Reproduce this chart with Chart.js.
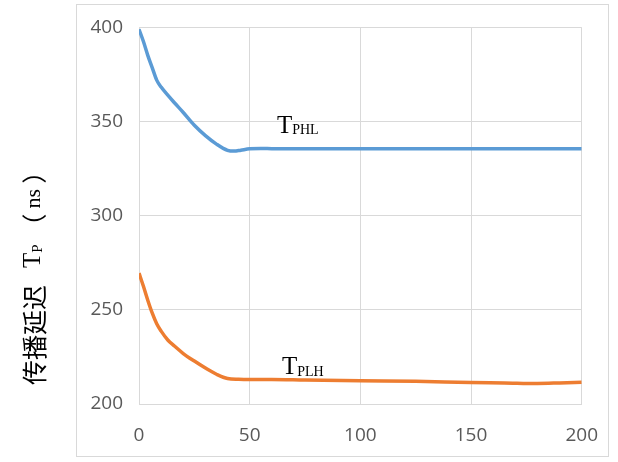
<!DOCTYPE html>
<html>
<head>
<meta charset="utf-8">
<script src="https://cdn.jsdelivr.net/npm/chart.js@4"></script>
<style>
  html, body { margin: 0; padding: 0; background: #ffffff; }
  #wrap { width: 618px; height: 462px; position: relative; }
</style>
</head>
<body>
<div id="wrap"><canvas id="c" width="618" height="462"></canvas></div>
<script>
// Falling-edge propagation delay T_PHL
const phlX = [0, 2, 4, 6, 8, 10, 13, 16, 20, 25, 30, 35, 40, 43, 46, 50, 55, 60, 80, 100, 120, 140, 160, 180, 200];
const phlY = [399, 392.5, 385, 378.5, 372, 368.3, 364, 360, 354.8, 348, 342.5, 338, 334.7, 334.3, 334.8, 335.5, 335.7, 335.6, 335.5, 335.5, 335.5, 335.5, 335.5, 335.5, 335.5];

// Rising-edge propagation delay T_PLH
const plhX = [0, 2, 4, 6, 8, 10, 13, 16, 20, 25, 30, 35, 40, 45, 50, 60, 75, 100, 125, 150, 165, 180, 190, 200];
const plhY = [269.5, 262.5, 255, 248.2, 242.6, 238.7, 234, 230.8, 226.8, 222.8, 219.1, 215.8, 213.5, 213.1, 213, 213, 212.7, 212.3, 212.1, 211.4, 211.2, 210.9, 211.2, 211.6];

const xTicks = [0, 50, 100, 150, 200];
const yTicks = [200, 250, 300, 350, 400];

const seriesNames = [['T', 'PHL'], ['T', 'PLH']];
const axisTitleParts = ['传播延迟', 'T', 'P', '（', 'ns', '）'];

const pts = (xs, ys) => xs.map((x, i) => ({ x: x, y: ys[i] }));

const GRID = '#d9d9d9';
const TICK_TEXT = '#595959';
const LATIN_SERIF = '"Liberation Serif", "DejaVu Serif", serif';
const CJK = '"Noto Sans CJK SC", sans-serif';

// Outer frame around the chart object
const framePlugin = {
  id: 'frame',
  beforeDraw(chart) {
    const ctx = chart.ctx;
    ctx.save();
    ctx.fillStyle = '#ffffff';
    ctx.fillRect(0, 0, chart.width, chart.height);
    ctx.strokeStyle = GRID;
    ctx.lineWidth = 1;
    ctx.strokeRect(76.5, 4.5, 532, 452);
    ctx.restore();
  }
};

// Draws "T" with a smaller subscript after it
function drawSubscripted(ctx, x, y, main, sub, mainSize, subSize, subDrop) {
  ctx.font = mainSize + 'px ' + LATIN_SERIF;
  ctx.fillText(main, x, y);
  const w = ctx.measureText(main).width;
  ctx.font = subSize + 'px ' + LATIN_SERIF;
  ctx.fillText(sub, x + w, y + subDrop);
}

// Series names written next to each curve
const seriesTagPlugin = {
  id: 'seriesTags',
  afterDatasetsDraw(chart) {
    const ctx = chart.ctx;
    const xs = chart.scales.x, ys = chart.scales.y;
    ctx.save();
    ctx.fillStyle = '#000000';
    ctx.textBaseline = 'alphabetic';
    ctx.textAlign = 'left';
    // T_PHL sits above the flat part of the blue curve
    const a = { x: xs.getPixelForValue(62.3), y: ys.getPixelForValue(phlY[phlY.length - 1]) - 15.5 };
    drawSubscripted(ctx, a.x, a.y, seriesNames[0][0], seriesNames[0][1], 25, 14, 1);
    // T_PLH sits on top of the orange curve
    const b = { x: xs.getPixelForValue(64.6), y: ys.getPixelForValue(213) - 6 };
    drawSubscripted(ctx, b.x, b.y, seriesNames[1][0], seriesNames[1][1], 25, 14, 2.5);
    ctx.restore();
  }
};

// Vertical y-axis title with a subscripted P, read bottom to top
const axisTitlePlugin = {
  id: 'axisTitle',
  afterDraw(chart) {
    const ctx = chart.ctx;
    const fonts = [
      '25px ' + CJK, '25px ' + LATIN_SERIF, '15px ' + LATIN_SERIF,
      '25px ' + CJK, '22px ' + LATIN_SERIF, '25px ' + CJK
    ];
    // baseline offsets (toward the right of the page) and gaps before each part
    const drops = [3, -1, 1, 3, -1, 3];
    const gaps = [0, 17, 0, 6, 5, 5];
    ctx.save();
    ctx.fillStyle = '#000000';
    ctx.textBaseline = 'alphabetic';
    ctx.textAlign = 'left';
    ctx.translate(41, 385);
    ctx.rotate(-Math.PI / 2);
    let x = 0;
    axisTitleParts.forEach((t, i) => {
      ctx.font = fonts[i];
      x += gaps[i];
      ctx.fillText(t, x, drops[i]);
      x += ctx.measureText(t).width;
    });
    ctx.restore();
  }
};

const tickFont = { family: '"Open Sans", "Liberation Sans", sans-serif', size: 19 };

new Chart(document.getElementById('c'), {
  type: 'line',
  data: {
    datasets: [
      {
        label: 'TPHL',
        data: pts(phlX, phlY),
        borderColor: '#5b9bd5',
        borderWidth: 3.5,
        pointRadius: 0,
        cubicInterpolationMode: 'monotone',
        fill: false
      },
      {
        label: 'TPLH',
        data: pts(plhX, plhY),
        borderColor: '#ed7d31',
        borderWidth: 3.5,
        pointRadius: 0,
        cubicInterpolationMode: 'monotone',
        fill: false
      }
    ]
  },
  options: {
    responsive: false,
    animation: false,
    devicePixelRatio: 1,
    layout: { padding: { top: 24, right: 34, left: 0, bottom: 0 } },
    plugins: {
      legend: { display: false },
      tooltip: { enabled: false },
      title: { display: false }
    },
    scales: {
      x: {
        type: 'linear',
        min: xTicks[0],
        max: xTicks[xTicks.length - 1],
        afterBuildTicks(scale) { scale.ticks = xTicks.map(v => ({ value: v })); },
        afterFit(scale) { scale.height = 58; },
        ticks: { font: tickFont, color: TICK_TEXT, padding: 20, maxRotation: 0 },
        grid: { color: GRID, lineWidth: 1, drawTicks: false },
        border: { color: GRID, width: 1 }
      },
      y: {
        type: 'linear',
        min: yTicks[0],
        max: yTicks[yTicks.length - 1],
        afterBuildTicks(scale) { scale.ticks = yTicks.map(v => ({ value: v })); },
        afterFit(scale) { scale.width = 139; },
        ticks: { font: tickFont, color: TICK_TEXT, padding: 16 },
        grid: { color: GRID, lineWidth: 1, drawTicks: false },
        border: { color: GRID, width: 1 }
      }
    }
  },
  plugins: [framePlugin, seriesTagPlugin, axisTitlePlugin]
});
</script>
</body>
</html>
